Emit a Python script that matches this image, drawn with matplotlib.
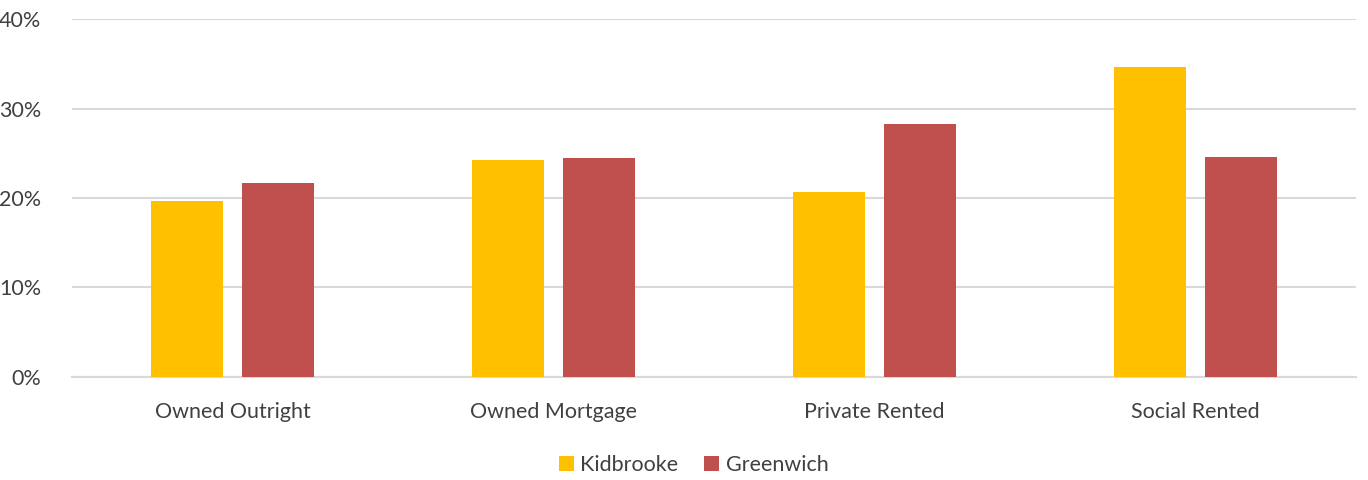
import numpy as np
import matplotlib
matplotlib.use("Agg")
import matplotlib.pyplot as plt
from matplotlib.ticker import FuncFormatter

plt.rcParams["font.family"] = ["Lato", "DejaVu Sans"]

categories = ["Owned Outright", "Owned Mortgage", "Private Rented", "Social Rented"]
kidbrooke = [19.7, 24.2, 20.7, 34.6]
greenwich = [21.7, 24.5, 28.3, 24.6]
series = ["Kidbrooke", "Greenwich"]
COL = {"Kidbrooke": "#FFC000", "Greenwich": "#C0504D"}
TXT = "#404040"

fig = plt.figure(figsize=(13.68, 4.8), dpi=100)
ax = fig.add_axes([0.0526, 0.2146, 0.9386, 0.7458])

x = np.arange(len(categories))
w = 0.224
ax.bar(x - 0.143, kidbrooke, w, color=COL["Kidbrooke"], label="Kidbrooke", zorder=3)
ax.bar(x + 0.143, greenwich, w, color=COL["Greenwich"], label="Greenwich", zorder=3)

ax.set_xlim(-0.5, len(categories) - 0.5)
ax.set_ylim(0, 40)
ax.set_yticks([0, 10, 20, 30, 40])
ax.yaxis.set_major_formatter(FuncFormatter(lambda v, _: f"{v:.0f}%"))
ax.set_xticks(x)
ax.set_xticklabels(categories)
ax.grid(axis="y", color="#D9D9D9", lw=1.5, zorder=0)
for s in ["top", "right", "left"]:
    ax.spines[s].set_visible(False)
ax.spines["bottom"].set_color("#D9D9D9")
ax.spines["bottom"].set_linewidth(1.5)
ax.tick_params(axis="both", length=0, labelsize=15.5, colors=TXT)
ax.tick_params(axis="x", pad=18)
ax.tick_params(axis="y", pad=22)

ax.legend(loc="upper center", bbox_to_anchor=(0.484, -0.165), ncol=2, frameon=False,
          fontsize=15.5, handlelength=0.7, handleheight=0.7,
          handletextpad=0.3, columnspacing=1.2, labelcolor=TXT)

fig.savefig("out.png", dpi=100)
